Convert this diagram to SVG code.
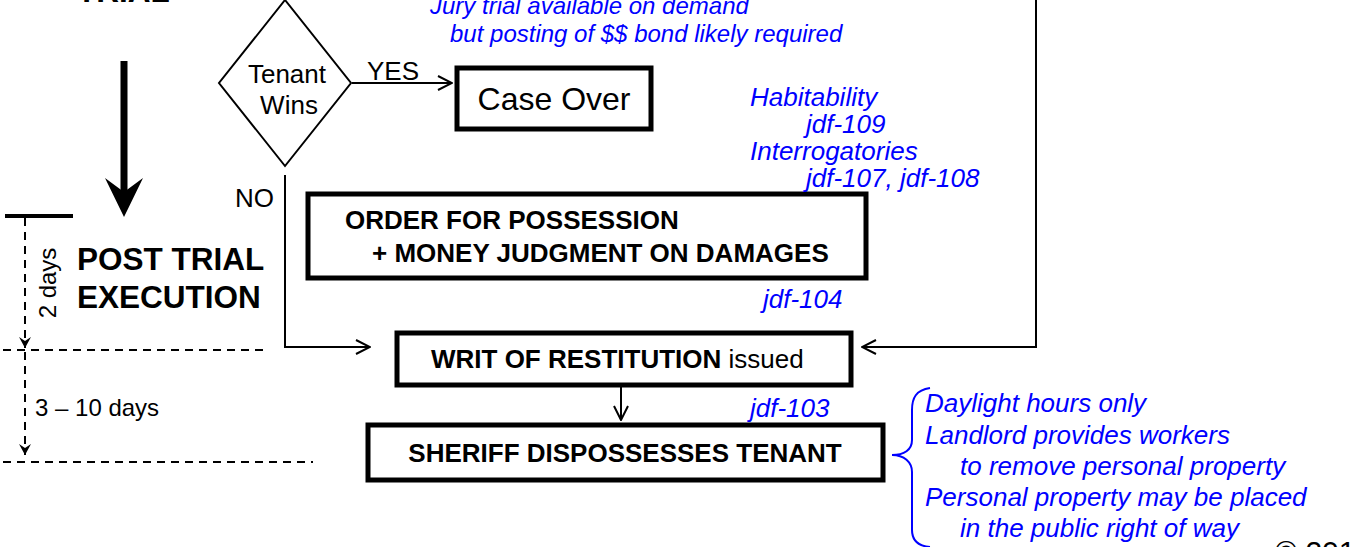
<svg xmlns="http://www.w3.org/2000/svg" width="1353" height="547" viewBox="0 0 1353 547">
<defs>
<style>
.t{font-family:"Liberation Sans",Arial,sans-serif;fill:#000}
.b{font-weight:bold}
.n{font-family:"Liberation Sans",Arial,sans-serif;font-style:italic;fill:#0000ff;font-size:26px}
.n24{font-size:24px}
.box{fill:#fff;stroke:#000;stroke-width:5}
.ln{fill:none;stroke:#000;stroke-width:2}
.dash{fill:none;stroke:#000;stroke-width:2;stroke-dasharray:8 6}
</style>
<marker id="open" viewBox="0 0 16 16" refX="15" refY="8" markerWidth="16" markerHeight="16" markerUnits="userSpaceOnUse" orient="auto">
<path d="M1,1 L15,8 L1,15" fill="none" stroke="#000" stroke-width="2"/>
</marker>
<marker id="solid" viewBox="0 0 12 12" refX="11" refY="6" markerWidth="12" markerHeight="12" markerUnits="userSpaceOnUse" orient="auto">
<path d="M0,0 L11,6 L0,12 L4,6 Z" fill="#000"/>
</marker>
</defs>
<rect width="1353" height="547" fill="#fff"/>

<g id="trial-label"><text class="t b" x="77" y="2" font-size="31.5">TRIAL</text></g>

<g id="big-arrow">
<line x1="124" y1="61" x2="124" y2="200" stroke="#000" stroke-width="7"/>
<path d="M105,178 L124,217 L143,178 L124,192 Z" fill="#000"/>
</g>

<g id="timeline">
<line x1="5" y1="216" x2="73" y2="216" stroke="#000" stroke-width="4"/>
<line class="dash" x1="25" y1="218" x2="25" y2="348" marker-end="url(#solid)"/>
<line class="dash" x1="3" y1="350" x2="265" y2="350"/>
<line class="dash" x1="25" y1="352" x2="25" y2="455" marker-end="url(#solid)"/>
<line class="dash" x1="3" y1="462" x2="313" y2="462"/>
<text class="t" font-size="24" transform="translate(56,283) rotate(-90)" text-anchor="middle">2 days</text>
<text class="t" x="35" y="416" font-size="24">3 – 10 days</text>
</g>

<g id="post-trial"><text class="t b" x="77" y="270" font-size="31.5">POST TRIAL</text><text class="t b" x="77" y="308" font-size="31.5">EXECUTION</text></g>

<g id="connectors">
<line class="ln" x1="352" y1="83" x2="452" y2="83" marker-end="url(#open)"/>
<polyline class="ln" points="285,175 285,347 370,347" marker-end="url(#open)"/>
<polyline class="ln" points="1036,0 1036,347 862,347" marker-end="url(#open)"/>
<line class="ln" x1="621" y1="386" x2="621" y2="420" marker-end="url(#open)"/>
<text class="t" x="367" y="80" font-size="26">YES</text>
<text class="t" x="235" y="207" font-size="26">NO</text>
</g>

<g id="tenant-wins">
<polygon points="285,0 351,83 285,166 219,83" fill="#fff" stroke="#000" stroke-width="2"/>
<text class="t" x="287" y="83" font-size="26" text-anchor="middle">Tenant</text>
<text class="t" x="289" y="114" font-size="26" text-anchor="middle">Wins</text>
</g>

<g id="case-over">
<rect class="box" x="457" y="68" width="194" height="61"/>
<text class="t" x="554" y="110" font-size="32" text-anchor="middle">Case Over</text>
</g>

<g id="order">
<rect class="box" x="308" y="194" width="558" height="84"/>
<text class="t b" x="345" y="229" font-size="26">ORDER FOR POSSESSION</text>
<text class="t b" x="372" y="262" font-size="26">+ MONEY JUDGMENT ON DAMAGES</text>
</g>

<g id="writ">
<rect class="box" x="397" y="333" width="454" height="52"/>
<text class="t" x="431" y="368" font-size="26"><tspan class="b">WRIT OF RESTITUTION</tspan> issued</text>
</g>

<g id="sheriff">
<rect class="box" x="368" y="425" width="515" height="55"/>
<text class="t b" x="625" y="462" font-size="26" text-anchor="middle">SHERIFF DISPOSSESSES TENANT</text>
</g>

<g id="notes">
<text class="n n24" x="430" y="14">Jury trial available on demand</text>
<text class="n n24" x="450" y="42">but posting of $$ bond likely required</text>
<text class="n" x="750" y="106">Habitability</text>
<text class="n" x="806" y="133">jdf-109</text>
<text class="n" x="750" y="160">Interrogatories</text>
<text class="n" x="806" y="187">jdf-107, jdf-108</text>
<text class="n" x="763" y="308">jdf-104</text>
<text class="n" x="750" y="417">jdf-103</text>
</g>

<g id="sheriff-notes">
<path d="M930,388 C916,390 912,398 912,410 L912,440 C912,450 904,455 892,455 C904,455 912,462 912,472 L912,530 C912,540 918,546 930,547" fill="none" stroke="#0000ff" stroke-width="2"/>
<text class="n" x="925" y="412">Daylight hours only</text>
<text class="n" x="925" y="444">Landlord provides workers</text>
<text class="n" x="960" y="475">to remove personal property</text>
<text class="n" x="925" y="506">Personal property may be placed</text>
<text class="n" x="960" y="537">in the public right of way</text>
</g>

<g id="copyright"><text class="t" x="1275" y="562" font-size="30">© 201</text></g>
</svg>
